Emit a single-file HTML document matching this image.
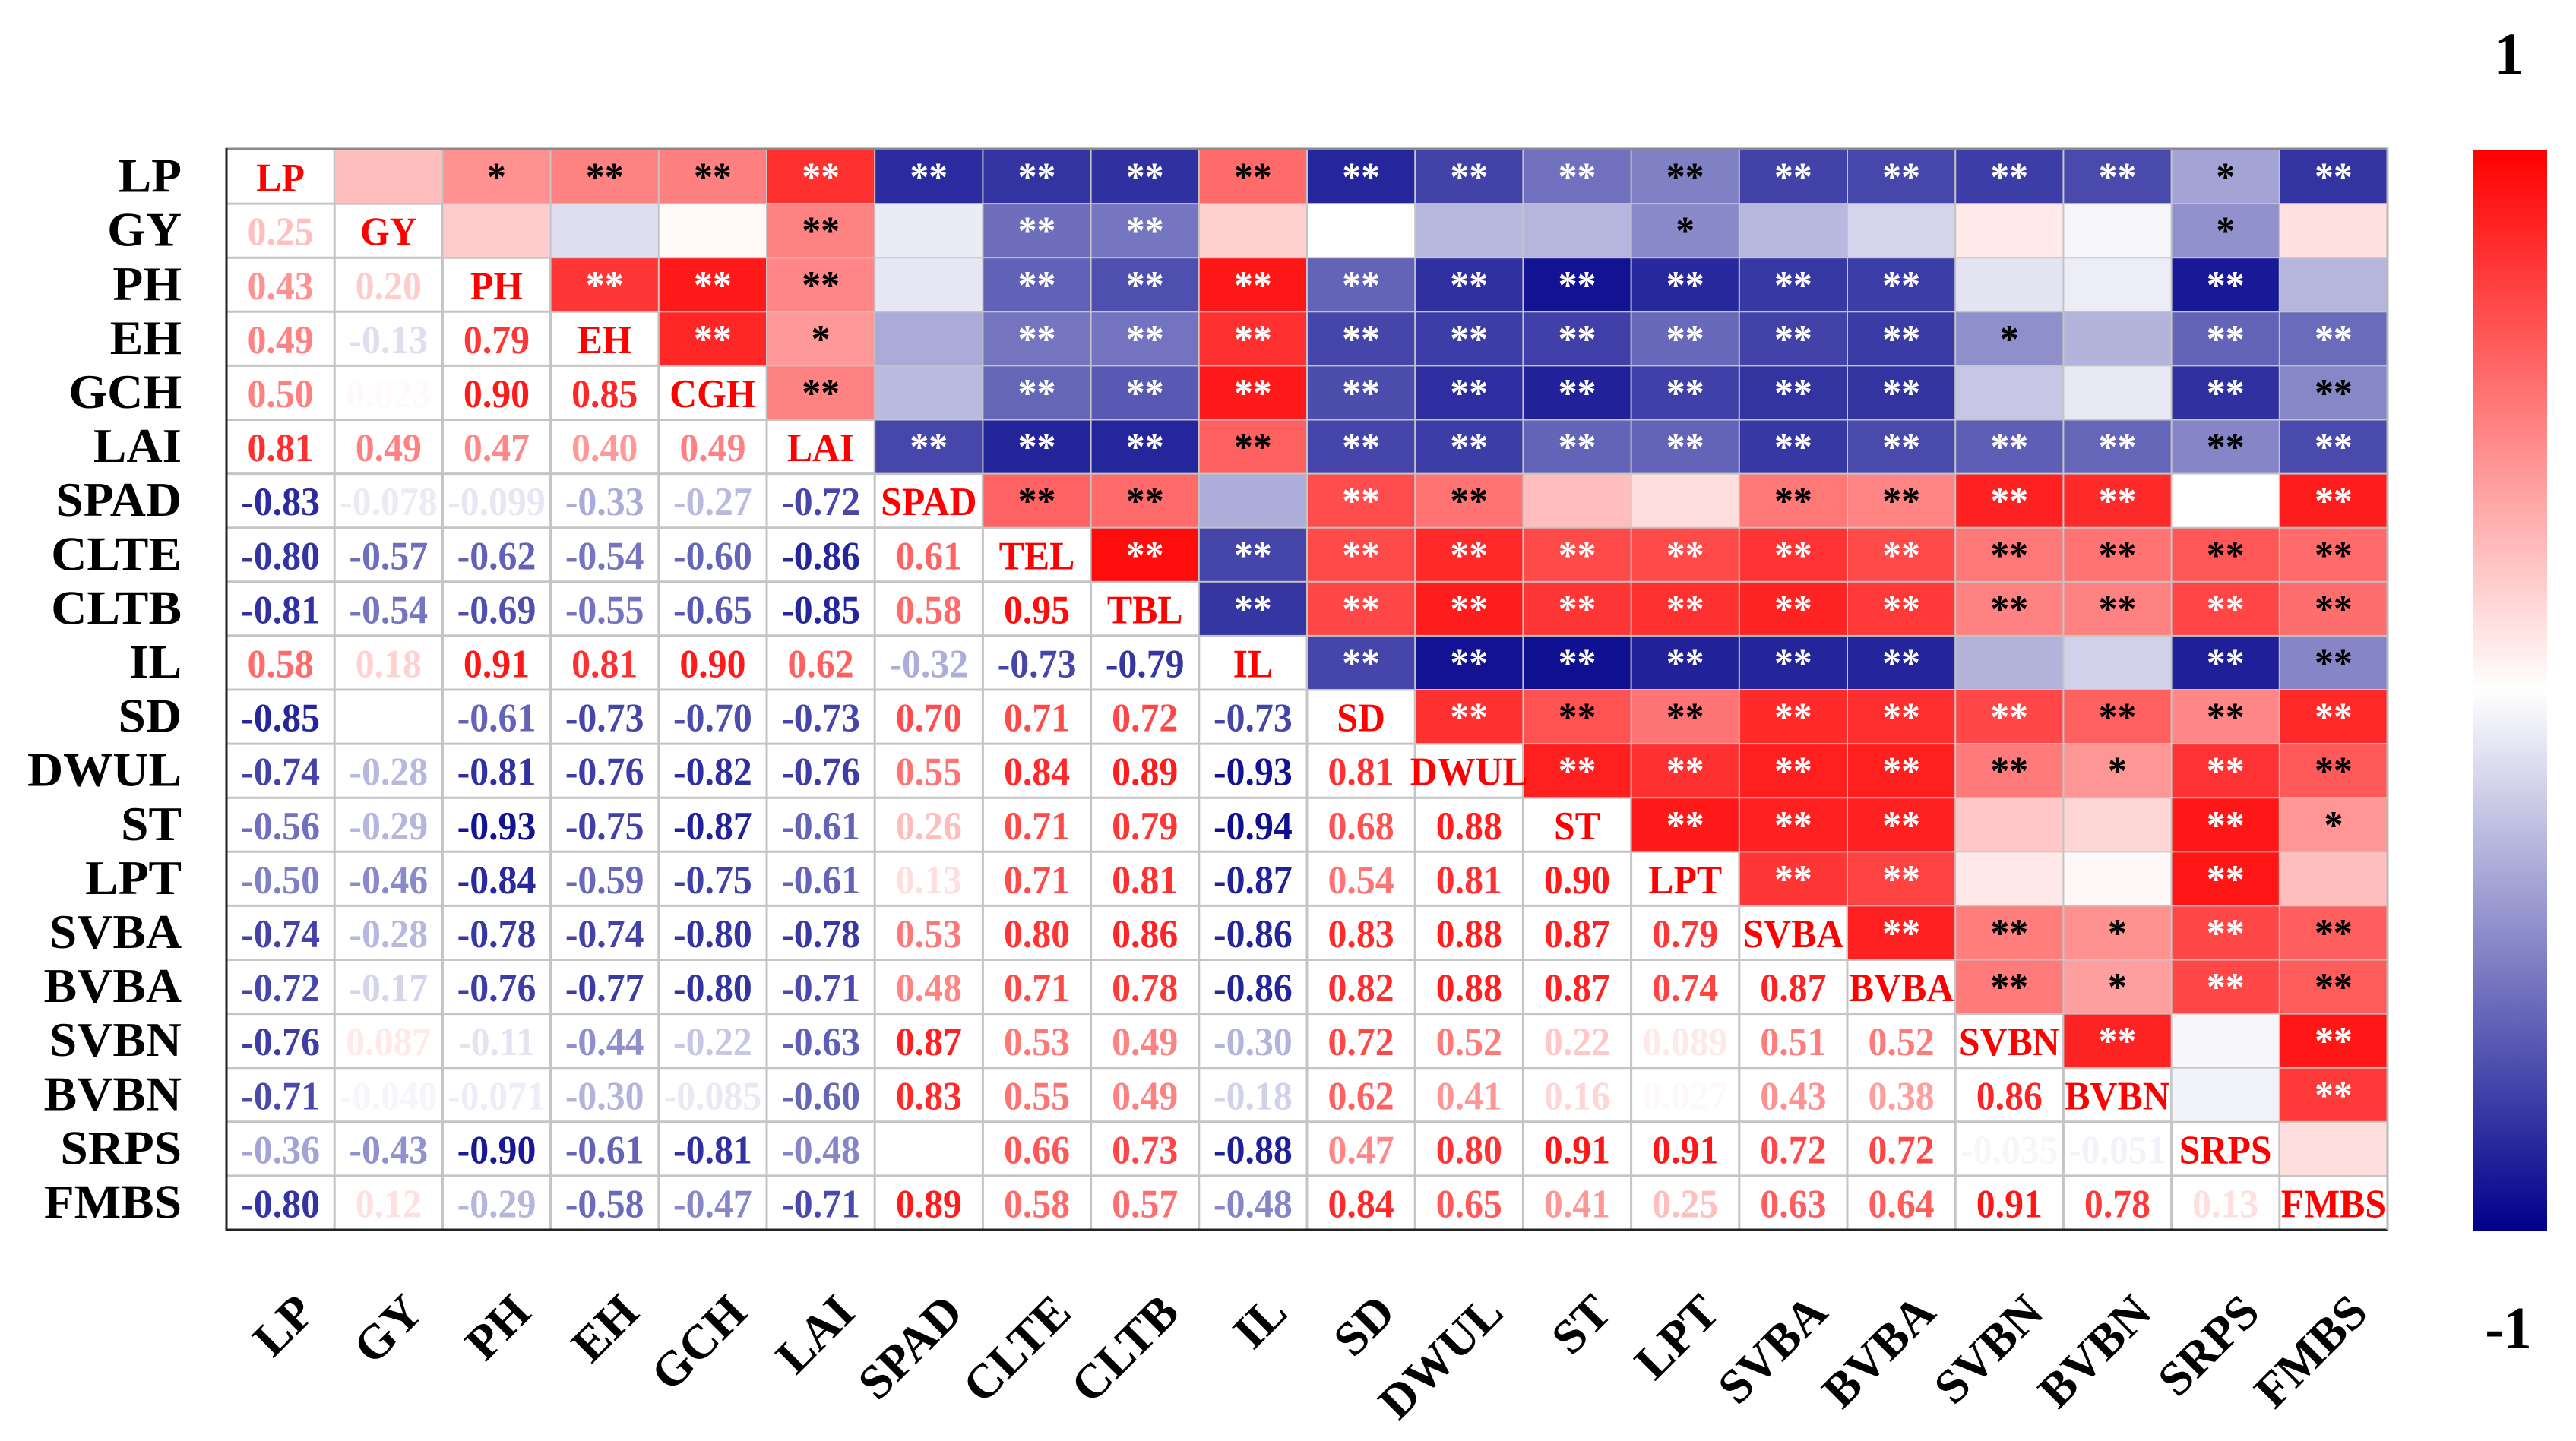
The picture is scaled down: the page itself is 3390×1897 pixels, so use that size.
<!DOCTYPE html>
<html lang="en">
<head>
<meta charset="utf-8">
<title>Correlation heatmap</title>
<style>
html,body{margin:0;padding:0;background:#fff;width:3390px;height:1897px;overflow:hidden}
svg{display:block}
text{font-family:"Liberation Serif",serif;font-weight:bold}
</style>
</head>
<body>
<svg id="chart" xmlns="http://www.w3.org/2000/svg" width="3390" height="1897" viewBox="0 0 3390 1897">
  <defs>
    <linearGradient id="cbGrad" x1="0" y1="0" x2="0" y2="1"></linearGradient>
  </defs>
  <rect x="0" y="0" width="3390" height="1897" fill="#ffffff"></rect>
</svg>
<script>
const variables = ["LP","GY","PH","EH","GCH","LAI","SPAD","CLTE","CLTB","IL","SD","DWUL","ST","LPT","SVBA","BVBA","SVBN","BVBN","SRPS","FMBS"];
const diagonalLabels = ["LP","GY","PH","EH","CGH","LAI","SPAD","TEL","TBL","IL","SD","DWUL","ST","LPT","SVBA","BVBA","SVBN","BVBN","SRPS","FMBS"];
const correlations = [
 [],
 [0.25],
 [0.43,0.20],
 [0.49,-0.13,0.79],
 [0.50,0.023,0.90,0.85],
 [0.81,0.49,0.47,0.40,0.49],
 [-0.83,-0.078,-0.099,-0.33,-0.27,-0.72],
 [-0.80,-0.57,-0.62,-0.54,-0.60,-0.86,0.61],
 [-0.81,-0.54,-0.69,-0.55,-0.65,-0.85,0.58,0.95],
 [0.58,0.18,0.91,0.81,0.90,0.62,-0.32,-0.73,-0.79],
 [-0.85,null,-0.61,-0.73,-0.70,-0.73,0.70,0.71,0.72,-0.73],
 [-0.74,-0.28,-0.81,-0.76,-0.82,-0.76,0.55,0.84,0.89,-0.93,0.81],
 [-0.56,-0.29,-0.93,-0.75,-0.87,-0.61,0.26,0.71,0.79,-0.94,0.68,0.88],
 [-0.50,-0.46,-0.84,-0.59,-0.75,-0.61,0.13,0.71,0.81,-0.87,0.54,0.81,0.90],
 [-0.74,-0.28,-0.78,-0.74,-0.80,-0.78,0.53,0.80,0.86,-0.86,0.83,0.88,0.87,0.79],
 [-0.72,-0.17,-0.76,-0.77,-0.80,-0.71,0.48,0.71,0.78,-0.86,0.82,0.88,0.87,0.74,0.87],
 [-0.76,0.087,-0.11,-0.44,-0.22,-0.63,0.87,0.53,0.49,-0.30,0.72,0.52,0.22,0.089,0.51,0.52],
 [-0.71,-0.040,-0.071,-0.30,-0.085,-0.60,0.83,0.55,0.49,-0.18,0.62,0.41,0.16,0.027,0.43,0.38,0.86],
 [-0.36,-0.43,-0.90,-0.61,-0.81,-0.48,null,0.66,0.73,-0.88,0.47,0.80,0.91,0.91,0.72,0.72,-0.035,-0.051],
 [-0.80,0.12,-0.29,-0.58,-0.47,-0.71,0.89,0.58,0.57,-0.48,0.84,0.65,0.41,0.25,0.63,0.64,0.91,0.78,0.13]
];
const significance = [
 [],
 [0],
 [1,0],
 [2,0,2],
 [2,0,2,2],
 [2,2,2,1,2],
 [2,0,0,0,0,2],
 [2,2,2,2,2,2,2],
 [2,2,2,2,2,2,2,2],
 [2,0,2,2,2,2,0,2,2],
 [2,0,2,2,2,2,2,2,2,2],
 [2,0,2,2,2,2,2,2,2,2,2],
 [2,0,2,2,2,2,0,2,2,2,2,2],
 [2,1,2,2,2,2,0,2,2,2,2,2,2],
 [2,0,2,2,2,2,2,2,2,2,2,2,2,2],
 [2,0,2,2,2,2,2,2,2,2,2,2,2,2,2],
 [2,0,0,1,0,2,2,2,2,0,2,2,0,0,2,2],
 [2,0,0,0,0,2,2,2,2,0,2,1,0,0,1,1,2],
 [1,1,2,2,2,2,0,2,2,2,2,2,2,2,2,2,0,0],
 [2,0,0,2,2,2,2,2,2,2,2,2,1,0,2,2,2,2,0]
];
const colorbarTicks = ["1","-1"];

const svgNS = "http://www.w3.org/2000/svg";
const svg = document.getElementById("chart");
const plot = {left:298, right:3142, top:197, bottom:1619};
const n = variables.length;
const bandW = (plot.right - plot.left) / n;
const bandH = (plot.bottom - plot.top) / n;
const xScale = i => plot.left + i * bandW;
const yScale = i => plot.top + i * bandH;

function mk(tag, attrs, parent) {
  const el = document.createElementNS(svgNS, tag);
  for (const k in attrs) el.setAttribute(k, attrs[k]);
  (parent || svg).appendChild(el);
  return el;
}
function colorFor(v) {
  if (v === null) return "rgb(255,255,255)";
  const t = Math.min(1, Math.abs(v));
  if (v >= 0) {
    const c = Math.round(255 * (1 - t));
    return "rgb(255," + c + "," + c + ")";
  }
  const c = Math.round(255 * (1 - t));
  const b = Math.round(255 - (255 - 139) * t);
  return "rgb(" + c + "," + c + "," + b + ")";
}
function valueAt(r, c) {
  return r > c ? correlations[r][c] : correlations[c][r];
}
function starsAt(r, c) {
  return r > c ? significance[r][c] : significance[c][r];
}
function starFill(v) {
  return (v >= 0.7 || v <= -0.52) ? "#ffffff" : "#000000";
}
function cellText(parent, cx, baseline, str, fill, size) {
  const t = mk("text", {
    transform: "translate(" + cx + "," + baseline + ") scale(0.94,1)",
    "text-anchor": "middle",
    "font-size": size,
    fill: fill
  }, parent);
  t.textContent = str;
  return t;
}

const baseGrid = mk("g", {stroke: "#c4c4c4", "stroke-width": 3});


for (let i = 1; i < n; i++) {
  const vLine = mk("line", {x1: xScale(i), x2: xScale(i), y1: plot.top, y2: plot.bottom}, baseGrid);
  
  
  const hLine = mk("line", {x1: plot.left, x2: plot.right, y1: yScale(i), y2: yScale(i)}, baseGrid);
  
  
}

const cellsGroup = mk("g", {});


for (let r = 0; r < n; r++) {
  for (let c = r + 1; c < n; c++) {
    const v = valueAt(r, c);
    const cell = mk("rect", {x: xScale(c) + 1, y: yScale(r) + 1, width: bandW - 2, height: bandH - 2, fill: colorFor(v)}, cellsGroup);
    
    
  }
}

const textGroup = mk("g", {});


for (let r = 0; r < n; r++) {
  for (let c = 0; c < n; c++) {
    const cx = xScale(c) + bandW / 2;
    const cy = yScale(r) + bandH / 2;
    if (r === c) {
      const d = cellText(textGroup, cx, cy + 19, diagonalLabels[r], "#ff0000", 53);
      
      
    } else if (r > c) {
      const v = valueAt(r, c);
      if (v !== null) {
        const t = cellText(textGroup, cx, cy + 19, v.toPrecision(2), colorFor(v), 53);
        
        
      }
    } else {
      const s = starsAt(r, c);
      if (s > 0) {
        const t = cellText(textGroup, cx, cy + 18, "*".repeat(s), starFill(valueAt(r, c)), 53);
        
        
      }
    }
  }
}

const border = [
  {x1: plot.left, x2: plot.right, y1: plot.top - 1, y2: plot.top - 1, s: "#8a8a8a", name: "plot-border-top"},
  {x1: plot.left, x2: plot.right, y1: plot.bottom, y2: plot.bottom, s: "#222222", name: "plot-border-bottom"},
  {x1: plot.left, x2: plot.left, y1: plot.top - 2, y2: plot.bottom + 1.5, s: "#222222", name: "plot-border-left"},
  {x1: plot.right, x2: plot.right, y1: plot.top - 2, y2: plot.bottom, s: "#b8b8b8", name: "plot-border-right"}
];
border.forEach(b => {
  const l = mk("line", {x1: b.x1, x2: b.x2, y1: b.y1, y2: b.y2, stroke: b.s, "stroke-width": 3});
  
  
});

variables.forEach((name, i) => {
  const t = mk("text", {
    transform: "translate(239," + (yScale(i) + bandH / 2 + 20) + ") scale(1.02,1)",
    "text-anchor": "end", "font-size": 64, fill: "#000000"
  });
  t.textContent = name;
  
  

  const xl = mk("text", {
    transform: "translate(" + (xScale(i) + bandW / 2 + 48) + ",1731) rotate(-45)",
    "text-anchor": "end", "font-size": 64, fill: "#000000"
  });
  xl.textContent = name;
  
  
});

const grad = document.getElementById("cbGrad");
[["0", "#ff0000"], ["0.5", "#ffffff"], ["1", "#00008b"]].forEach(s => {
  mk("stop", {offset: s[0], "stop-color": s[1]}, grad);
});
const colorbar = mk("rect", {x: 3254, y: 198, width: 98, height: 1422, fill: "url(#cbGrad)"});



const cbTop = mk("text", {x: 3302, y: 97, "text-anchor": "middle", "font-size": 78, fill: "#000000"});
cbTop.textContent = colorbarTicks[0];



const cbBottom = mk("text", {transform: "translate(3301,1775) scale(0.92,1)", "text-anchor": "middle", "font-size": 80, fill: "#000000"});
cbBottom.textContent = colorbarTicks[1];


</script>
</body>
</html>
